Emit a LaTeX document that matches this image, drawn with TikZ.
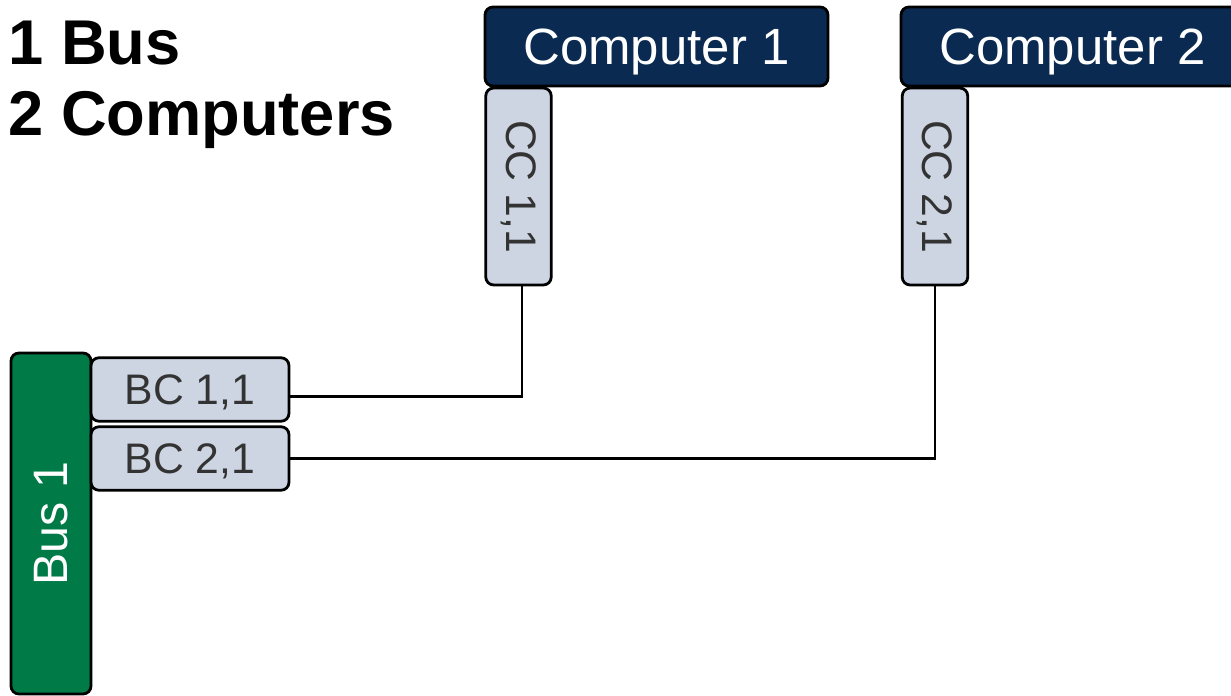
\documentclass[tikz,border=0pt]{standalone}
\usepackage{fontspec}
\setmainfont{Liberation Sans}

\definecolor{compblue}{HTML}{0B2A51}
\definecolor{busgreen}{HTML}{007A47}
\definecolor{portfill}{HTML}{CDD5E2}
\definecolor{porttext}{HTML}{333333}

\tikzset{
  box/.style={draw=black, line width=1.6pt, rounded corners=4.5pt, inner sep=0pt},
  computer/.style={box, fill=compblue, text=white, minimum width=6.86cm, minimum height=1.58cm,
    text depth=0pt, font=\fontsize{29}{34}\selectfont},
  ccport/.style={box, fill=portfill, text=porttext, minimum width=1.31cm, minimum height=3.94cm,
    font=\fontsize{24.3}{29}\selectfont},
  bcport/.style={box, fill=portfill, text=porttext, minimum width=3.96cm, minimum height=1.27cm,
    text depth=0pt, font=\fontsize{24.3}{29}\selectfont},
  bus/.style={box, fill=busgreen, text=white, minimum width=1.6cm, minimum height=6.82cm,
    font=\fontsize{27.5}{32}\selectfont},
  heading/.style={anchor=base west, inner sep=0pt, font=\fontsize{36}{40}\selectfont\bfseries},
  wire/.style={draw=black, line width=1.3pt}
}

\begin{document}
\begin{tikzpicture}[x=0.02cm, y=-0.02cm]
	\clip (0,0) rectangle (1231,696);

	% Titel
	\node[heading] (title1) at (8,65) {1 Bus};
	\node[heading] (title2) at (8,135) {2 Computers};

	% Computer
	\node[computer] (comp1) at (656.5,46.5) {Computer 1};
	\node[computer] (comp2) at (1072.5,46.5) {Computer 2};

	% Computer-Anschluesse
	\node[ccport] (cc11) at (518.5,186.5) {\rotatebox{-90}{CC 1,1}};
	\node[ccport] (cc21) at (935,186.5) {\rotatebox{-90}{CC 2,1}};

	% Bus
	\node[bus] (bus1) at (51,523.5) {\rotatebox{90}{Bus 1}};

	% Bus-Anschluesse
	\node[bcport] (bc11) at (190,389.5) {BC 1,1};
	\node[bcport] (bc21) at (190,458.5) {BC 2,1};

	% Leitungen
	\draw[wire] ([yshift=-0.14cm]bc11.east) -| ([xshift=0.07cm]cc11.south);
	\draw[wire] (bc21.east) -| (cc21.south);
\end{tikzpicture}
\end{document}
